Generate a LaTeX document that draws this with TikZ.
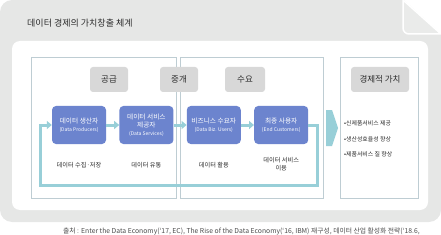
\documentclass[tikz,border=0pt]{standalone}
\usepackage{fontspec}
\setmainfont{Noto Sans CJK KR}
\usetikzlibrary{arrows.meta, positioning, calc}
\definecolor{colBg}{RGB}{230,231,230}
\definecolor{colFlap}{RGB}{234,235,234}
\definecolor{colFrame}{RGB}{190,205,211}
\definecolor{colTag}{RGB}{216,216,216}
\definecolor{colActor}{RGB}{108,132,206}
\definecolor{colFlow}{RGB}{152,207,216}
\definecolor{colText}{RGB}{45,45,45}
\newcommand{\eng}[1]{{\fontsize{5}{6}\selectfont #1}}
\tikzset{
  frame/.style={
    rectangle, draw=colFrame, line width=0.8pt, fill=white
  },
  tag/.style={
    rectangle, rounded corners=3pt, fill=colTag, text=colText,
    font=\fontsize{8.5}{10}\selectfont, minimum height=25pt, inner sep=0pt
  },
  actor/.style={
    rectangle, rounded corners=4pt, fill=colActor, text=white, align=center,
    minimum width=54pt, minimum height=38pt, inner sep=0pt,
    font=\fontsize{6.7}{8}\selectfont
  },
  flow/.style={
    -{Triangle[length=5pt, width=8pt]}, line width=3pt, color=colFlow
  },
  note/.style={font=\fontsize{6.2}{8.5}\selectfont, text=colText, align=center, inner sep=0pt},
  bullet/.style={font=\fontsize{5.9}{7}\selectfont, text=colText, anchor=west, inner sep=0pt}
}

\begin{document}
\begin{tikzpicture}[x=1pt, y=-1pt, node distance=13pt]

  \useasboundingbox (0,0) rectangle (441,235);

  % page background with folded corner
  \fill[colBg, rounded corners=12pt] (0,0) rectangle (441,222);
  \fill[white] (403,-1) -- (442,-1) -- (442,35) -- cycle;
  \filldraw[fill=colFlap, draw=white, line width=1.5pt]
    (403,0) [rounded corners=6pt] -- (403,34) [sharp corners] -- (441,34) -- cycle;
  \fill[white, rounded corners=8pt] (12,41) rectangle (428,210);

  \node[anchor=west, text=colText, font=\fontsize{9}{10}\selectfont, inner sep=0pt] (title) at (27,23) {데이터 경제의 가치창출 체계};

  % frames
  \node[frame, minimum width=145pt, minimum height=141pt] (supplyFrame) at (103.5,127.5) {};
  \node[frame, minimum width=143pt, minimum height=141pt] (demandFrame) at (251.5,127.5) {};
  \node[frame, minimum width=78pt, minimum height=141pt] (valueFrame) at (379,127.5) {};

  % stage tags
  \node[tag, minimum width=38pt] (supplyTag) at (109,79.5) {공급};
  \node[tag, minimum width=38pt] (brokerTag) at (179,79.5) {중개};
  \node[tag, minimum width=40pt] (demandTag) at (245,79.5) {수요};
  \node[tag, minimum width=58pt] (valueTag) at (380,79.5) {경제적 가치};

  % actors
  \node[actor] (prod) at (79,125) {데이터 생산자\\\eng{(Data Producers)}};
  \node[actor, right=of prod] (serv) {데이터 서비스\\제공자\\\eng{(Data Services)}};
  \node[actor, right=of serv] (biz) {비즈니스 수요자\\\eng{(Data Biz. Users)}};
  \node[actor, right=of biz] (endc) {최종 사용자\\\eng{(End Customers)}};

  \node[note] at ([yshift=-21pt]prod.south) {데이터 수집·저장};
  \node[note] at ([yshift=-21pt]serv.south) {데이터 유통};
  \node[note] at ([yshift=-21pt]biz.south) {데이터 활용};
  \node[note] at ([yshift=-20pt]endc.south) {데이터 서비스\\이용};

  % flow between actors
  \draw[flow] (prod) -- (serv);
  \draw[flow] (serv) -- (biz);
  \draw[flow] (biz) -- (endc);

  % feedback loop
  \coordinate (loopR) at (317,185);
  \coordinate (loopL) at (40,185);
  \draw[flow] (endc.east) -| (loopR) -- (loopL) |- (prod.west);

  % to economic value
  \fill[colFlow] (326,110) -- (332,110) -- (338,128) -- (332,146) -- (326,146) -- cycle;

  \node[bullet] (b1) at (344,123) {•신제품서비스 제공};
  \node[bullet] (b2) at (344,139) {•생산성효율성 향상};
  \node[bullet] (b3) at (344,154) {•제품서비스 질 향상};

  % source
  \node[anchor=west, text=colText!85, font=\fontsize{6.8}{7}\selectfont, inner sep=0pt] (source) at (63,231) {출처 : Enter the Data Economy(`17, EC), The Rise of the Data Economy(`16, IBM) 재구성, 데이터 산업 활성화 전략(`18.6,};

\end{tikzpicture}
\end{document}
